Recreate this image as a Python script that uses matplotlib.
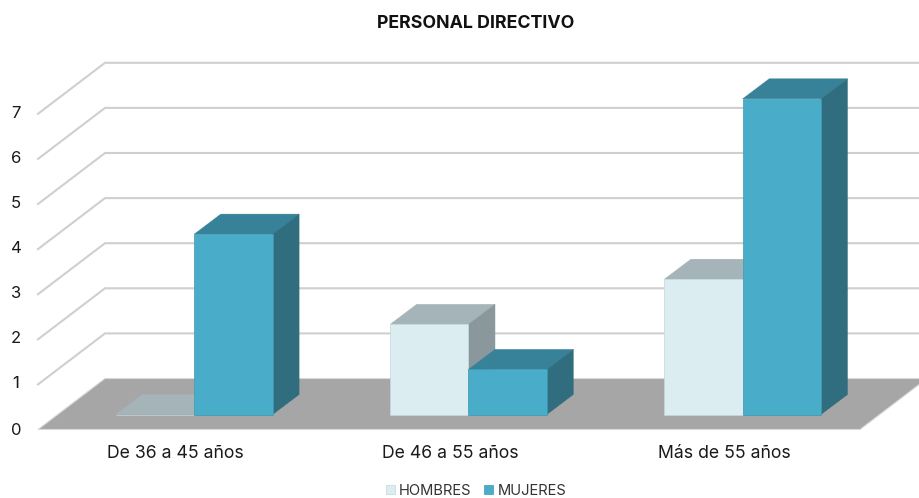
import numpy as np
import matplotlib
matplotlib.use('Agg')
import matplotlib.pyplot as plt
from matplotlib.patches import Polygon, Patch

plt.rcParams['font.family'] = ['Inter', 'DejaVu Sans']

categories = ['De 36 a 45 años', 'De 46 a 55 años', 'Más de 55 años']
hombres = [0, 2, 3]
mujeres = [4, 1, 7]
y_ticks = [0, 1, 2, 3, 4, 5, 6, 7]

# scale of the picture: px per category, px per unit of value
PX_X = 274.2
PX_Y = 45.1
W, H = 920, 498
X0, Y0 = 194.3, 414.5   # where category 0 / value 0 land, in px

bar_w = 78.3 / PX_X
dep_x, dep_y = 26.5 / PX_X, 20 / PX_Y       # bar depth
wall_x, wall_y = 67 / PX_X, 51 / PX_Y       # floor depth
left, right = (38 - X0) / PX_X, (860 - X0) / PX_X
front_y = -15 / PX_Y
back_y = front_y + wall_y

c_h = {'front': '#DCEDF2', 'top': '#A4B4B9', 'side': '#8A989E', 'edge': '#C5D6DB'}
c_m = {'front': '#49ADC9', 'top': '#378299', 'side': '#306D7E', 'edge': '#409AB3'}


def bar3d(ax, x, val, cols, z):
    ax.bar(x, val, bar_w, align='edge', color=cols['front'], edgecolor=cols['edge'],
           linewidth=0.5, zorder=z + 0.2)
    top = [(x, val), (x + bar_w, val), (x + bar_w + dep_x, val + dep_y), (x + dep_x, val + dep_y)]
    ax.add_patch(Polygon(top, fc=cols['top'], ec=cols['top'], lw=0.3, zorder=z + 0.1))
    if val > 0:
        side = [(x + bar_w, 0), (x + bar_w + dep_x, dep_y), (x + bar_w + dep_x, val + dep_y), (x + bar_w, val)]
        ax.add_patch(Polygon(side, fc=cols['side'], ec=cols['side'], lw=0.3, zorder=z + 0.1))


fig = plt.figure(figsize=(W / 100, H / 100), dpi=100)
ax = fig.add_axes([0, 0, 1, 1])
ax.set_xlim(-X0 / PX_X, (W - X0) / PX_X)
ax.set_ylim((Y0 - H) / PX_Y, Y0 / PX_Y)
ax.axis('off')

# walls
for k in y_ticks[1:]:
    ax.plot([left, left + wall_x, 10], [k + front_y, k + back_y, k + back_y],
            color='#CFCFCF', lw=1.5, zorder=1, solid_joinstyle='miter')
    ax.text(left - 0.08, k + front_y + 0.01, str(k), ha='center', va='center', fontsize=12, color='#1A1A1A')
ax.text(left - 0.08, front_y - 0.03, '0', ha='center', va='center', fontsize=12, color='#1A1A1A')

# floor
floor = [(left, front_y), (right, front_y), (right + wall_x, back_y), (left + wall_x, back_y)]
ax.add_patch(Polygon(floor, fc='#A6A6A6', ec='#D9D9D9', lw=0.8, zorder=2))

for i in range(len(categories)):
    bar3d(ax, i - bar_w, hombres[i], c_h, 3 + i)
    bar3d(ax, i, mujeres[i], c_m, 3.5 + i)
    ax.text(i - 0.068, -0.86, categories[i], ha='center', va='center', fontsize=12.7, color='#1A1A1A')

fig.text(475.5 / W, 1 - 23.5 / H, 'PERSONAL DIRECTIVO', ha='center', va='center', fontsize=12.8,
         fontweight='bold', color='#111111')

handles = [Patch(fc=c_h['front'], ec=c_h['edge'], lw=0.5, label='HOMBRES'),
           Patch(fc=c_m['front'], ec=c_m['edge'], lw=0.5, label='MUJERES')]
fig.legend(handles=handles, loc='center', bbox_to_anchor=(476 / W, 1 - 490.5 / H), ncol=2, frameon=False,
           fontsize=10.6, handlelength=0.6, handleheight=0.6, handletextpad=0.3, columnspacing=0.85,
           labelcolor='#333333', borderpad=0)

fig.savefig('out.png', dpi=100)
